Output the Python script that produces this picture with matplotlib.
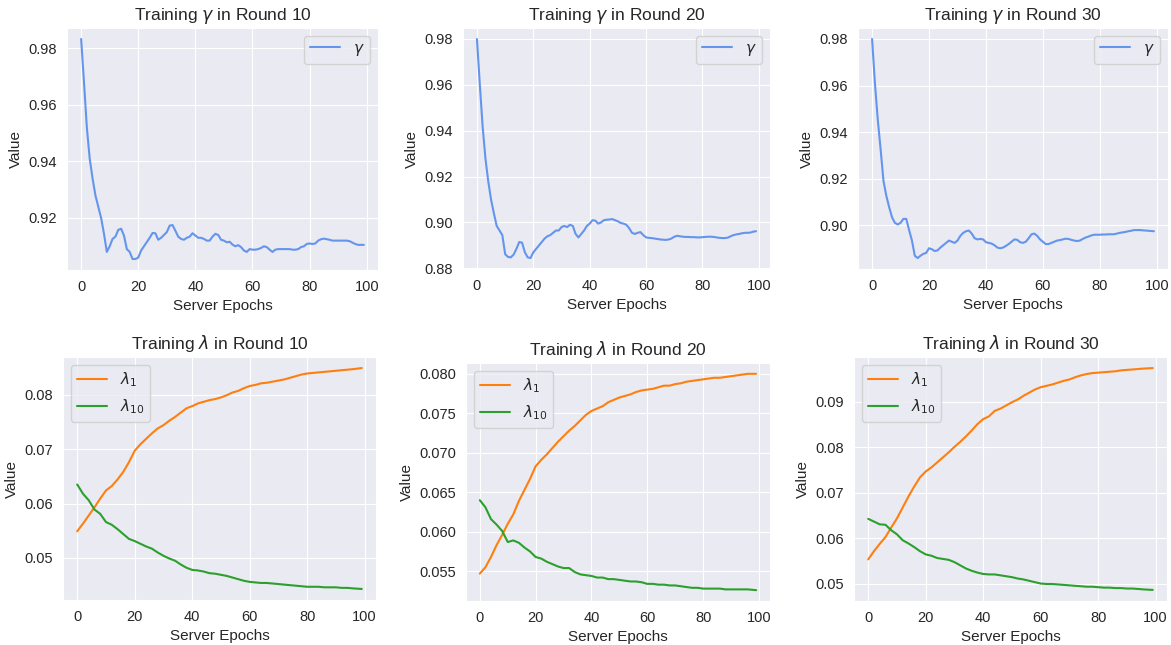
import numpy as np
import matplotlib
matplotlib.use("Agg")
import matplotlib.pyplot as plt
import seaborn as sns

# gamma per server epoch (0..99)
gamma_r10 = [0.9833, 0.968, 0.952, 0.941, 0.934, 0.928, 0.924, 0.920, 0.9144, 0.908,
             0.910, 0.9126, 0.9134, 0.9158, 0.9162, 0.9138, 0.909, 0.908, 0.9055, 0.9055,
             0.906, 0.9085, 0.910, 0.9115, 0.913, 0.9147, 0.9146, 0.9123, 0.913, 0.914,
             0.915, 0.9173, 0.9175, 0.9155, 0.9134, 0.9126, 0.9123, 0.913, 0.9134, 0.9146,
             0.9138, 0.913, 0.913, 0.9126, 0.912, 0.912, 0.9134, 0.9144, 0.914, 0.9123,
             0.912, 0.9114, 0.9116, 0.9106, 0.910, 0.9104, 0.9097, 0.9085, 0.908, 0.909,
             0.9088, 0.9088, 0.909, 0.9094, 0.910, 0.9097, 0.9088, 0.908, 0.9088, 0.909,
             0.909, 0.909, 0.909, 0.909, 0.9088, 0.9088, 0.909, 0.9097, 0.910, 0.9108,
             0.911, 0.9108, 0.911, 0.912, 0.9125, 0.9127, 0.9125, 0.9123, 0.912, 0.912,
             0.912, 0.912, 0.912, 0.912, 0.9118, 0.9113, 0.9108, 0.9105, 0.9105, 0.9105]
gamma_r20 = [0.980, 0.9605, 0.942, 0.928, 0.918, 0.910, 0.904, 0.8985, 0.8965, 0.8945,
             0.8862, 0.8850, 0.8848, 0.8860, 0.8885, 0.8915, 0.8912, 0.8870, 0.8848, 0.8845,
             0.8870, 0.8885, 0.8900, 0.8915, 0.8930, 0.8940, 0.8945, 0.8955, 0.8965, 0.8965,
             0.8980, 0.8985, 0.8980, 0.8990, 0.8985, 0.8950, 0.8935, 0.8950, 0.8965, 0.8985,
             0.8995, 0.9010, 0.9008, 0.8995, 0.9000, 0.9010, 0.9012, 0.9013, 0.9015, 0.9010,
             0.9005, 0.8998, 0.8995, 0.8990, 0.8975, 0.8955, 0.8950, 0.8955, 0.8958, 0.8945,
             0.8935, 0.8933, 0.8932, 0.8930, 0.8928, 0.8926, 0.8925, 0.8924, 0.8926, 0.8930,
             0.8938, 0.8942, 0.8940, 0.8938, 0.8937, 0.8937, 0.8936, 0.8936, 0.8935, 0.8935,
             0.8936, 0.8937, 0.8938, 0.8938, 0.8937, 0.8935, 0.8933, 0.8932, 0.8932, 0.8934,
             0.8940, 0.8945, 0.8948, 0.8950, 0.8953, 0.8955, 0.8955, 0.8956, 0.8960, 0.8962]
gamma_r30 = [0.980, 0.9609, 0.9453, 0.9326, 0.9191, 0.9127, 0.9078, 0.9035, 0.9011, 0.9004,
             0.9011, 0.9028, 0.9028, 0.8980, 0.8935, 0.8870, 0.8860, 0.8870, 0.8878, 0.8882,
             0.8902, 0.8898, 0.8890, 0.8893, 0.8905, 0.8915, 0.8925, 0.8935, 0.8930, 0.8925,
             0.8935, 0.8955, 0.8968, 0.8975, 0.8978, 0.8965, 0.8945, 0.8940, 0.8942, 0.8940,
             0.8928, 0.8925, 0.8922, 0.8915, 0.8905, 0.8902, 0.8905, 0.8912, 0.8920, 0.8930,
             0.8940, 0.8938, 0.8928, 0.8925, 0.8930, 0.8945, 0.8962, 0.8965, 0.8955, 0.8940,
             0.8930, 0.8920, 0.8920, 0.8925, 0.8930, 0.8935, 0.8937, 0.8940, 0.8943, 0.8942,
             0.8938, 0.8935, 0.8933, 0.8935, 0.8942, 0.8948, 0.8952, 0.8957, 0.8960, 0.8960,
             0.8960, 0.8961, 0.8961, 0.8962, 0.8962, 0.8962, 0.8965, 0.8968, 0.8970, 0.8972,
             0.8975, 0.8977, 0.8980, 0.8980, 0.8980, 0.8979, 0.8978, 0.8977, 0.8976, 0.8975]

# lambda read at every second epoch
lam_x = [0, 2, 4, 6, 8, 10, 12, 14, 16, 18, 20, 22, 24, 26, 28, 30, 32, 34, 36, 38,
         40, 42, 44, 46, 48, 50, 52, 54, 56, 58, 60, 62, 64, 66, 68, 70, 72, 74, 76, 78,
         80, 82, 84, 86, 88, 90, 92, 94, 96, 99]
lam1_r10 = [0.0549, 0.0563, 0.0578, 0.0593, 0.0609, 0.0624, 0.0632, 0.0644, 0.0658, 0.0676,
            0.0697, 0.0709, 0.0719, 0.0729, 0.0738, 0.0744, 0.0752, 0.0759, 0.0767, 0.0775,
            0.0779, 0.0784, 0.0787, 0.0790, 0.0792, 0.0795, 0.0799, 0.0804, 0.0807, 0.0812,
            0.0816, 0.0818, 0.0821, 0.0822, 0.0824, 0.0826, 0.0828, 0.0831, 0.0834, 0.0837,
            0.0839, 0.0840, 0.0841, 0.0842, 0.0843, 0.0844, 0.0845, 0.0846, 0.0847, 0.0849]
lam10_r10 = [0.0635, 0.0618, 0.0606, 0.0589, 0.0581, 0.0566, 0.0561, 0.0553, 0.0544, 0.0535,
             0.0531, 0.0526, 0.0521, 0.0517, 0.0510, 0.0504, 0.0499, 0.0495, 0.0488, 0.0482,
             0.0478, 0.0477, 0.0475, 0.0472, 0.0471, 0.0469, 0.0467, 0.0464, 0.0461, 0.0458,
             0.0456, 0.0455, 0.0454, 0.0454, 0.0453, 0.0452, 0.0451, 0.0450, 0.0449, 0.0448,
             0.0447, 0.0447, 0.0447, 0.0446, 0.0446, 0.0446, 0.0445, 0.0445, 0.0444, 0.0443]
lam1_r20 = [0.0547, 0.0555, 0.0568, 0.0583, 0.0596, 0.0610, 0.0622, 0.0639, 0.0653, 0.0667,
            0.0683, 0.0691, 0.0698, 0.0706, 0.0714, 0.0721, 0.0728, 0.0734, 0.0741, 0.0748,
            0.0753, 0.0756, 0.0759, 0.0764, 0.0767, 0.0770, 0.0772, 0.0774, 0.0777, 0.0779,
            0.0780, 0.0781, 0.0783, 0.0785, 0.0785, 0.0787, 0.0788, 0.0790, 0.0791, 0.0792,
            0.0793, 0.0794, 0.0795, 0.0795, 0.0796, 0.0797, 0.0798, 0.0799, 0.0800, 0.0800]
lam10_r20 = [0.0640, 0.0631, 0.0616, 0.0609, 0.0601, 0.0587, 0.0589, 0.0586, 0.0580, 0.0575,
             0.0568, 0.0566, 0.0562, 0.0559, 0.0556, 0.0554, 0.0554, 0.0549, 0.0546, 0.0545,
             0.0544, 0.0542, 0.0542, 0.0540, 0.0540, 0.0539, 0.0538, 0.0537, 0.0537, 0.0536,
             0.0534, 0.0534, 0.0533, 0.0533, 0.0532, 0.0532, 0.0531, 0.0530, 0.0529, 0.0529,
             0.0528, 0.0528, 0.0528, 0.0528, 0.0527, 0.0527, 0.0527, 0.0527, 0.0527, 0.0526]
lam1_r30 = [0.0554, 0.0572, 0.0588, 0.0603, 0.0624, 0.0644, 0.0668, 0.0692, 0.0714, 0.0734,
            0.0747, 0.0756, 0.0767, 0.0778, 0.0789, 0.0801, 0.0812, 0.0824, 0.0837, 0.0851,
            0.0862, 0.0868, 0.0880, 0.0885, 0.0892, 0.0899, 0.0905, 0.0913, 0.0920, 0.0927,
            0.0932, 0.0935, 0.0938, 0.0942, 0.0946, 0.0949, 0.0954, 0.0958, 0.0961, 0.0963,
            0.0964, 0.0965, 0.0966, 0.0967, 0.0969, 0.0970, 0.0971, 0.0972, 0.0973, 0.0974]
lam10_r30 = [0.0643, 0.0637, 0.0631, 0.0630, 0.0618, 0.0609, 0.0596, 0.0589, 0.0581, 0.0572,
             0.0565, 0.0562, 0.0557, 0.0555, 0.0553, 0.0548, 0.0541, 0.0534, 0.0529, 0.0525,
             0.0522, 0.0521, 0.0521, 0.0519, 0.0517, 0.0515, 0.0512, 0.0510, 0.0507, 0.0504,
             0.0501, 0.0500, 0.0500, 0.0499, 0.0498, 0.0497, 0.0496, 0.0495, 0.0494, 0.0494,
             0.0493, 0.0492, 0.0492, 0.0491, 0.0491, 0.0490, 0.0490, 0.0489, 0.0488, 0.0487]

rounds = [10, 20, 30]
gammas = [gamma_r10, gamma_r20, gamma_r30]
lam1s = [lam1_r10, lam1_r20, lam1_r30]
lam10s = [lam10_r10, lam10_r20, lam10_r30]

sns.set_style("darkgrid")
plt.rcParams['font.family'] = ['Liberation Sans', 'DejaVu Sans']

W, H = 1171, 645
fig = plt.figure(figsize=(W / 100, H / 100), dpi=100)

# axes boxes in pixels: left, top, right, bottom
top_boxes = [(67, 28, 378, 270), (463, 28, 770, 269), (858, 28, 1168, 269)]
bot_boxes = [(63, 357, 376, 600), (466, 363, 770, 601), (854, 357, 1167, 601)]

def make_ax(b):
    l, t, r, bt = b
    return fig.add_axes([l / W, (H - bt) / H, (r - l) / W, (bt - t) / H])

epochs = np.arange(100)
for i in range(3):
    ax = make_ax(top_boxes[i])
    ax.plot(epochs, gammas[i], color='cornflowerblue', lw=1.5, label=r'$\gamma$')
    ax.set_title(r'Training $\gamma$ in Round %d' % rounds[i], fontsize=12.5)
    ax.set_xlabel('Server Epochs', fontsize=11)
    ax.set_ylabel('Value', fontsize=11)
    ax.tick_params(labelsize=10.5)
    ax.legend(loc='upper right', fontsize=11)

    ax = make_ax(bot_boxes[i])
    ax.plot(lam_x, lam1s[i], color='tab:orange', lw=1.5, label=r'$\lambda_1$')
    ax.plot(lam_x, lam10s[i], color='tab:green', lw=1.5, label=r'$\lambda_{10}$')
    ax.set_title(r'Training $\lambda$ in Round %d' % rounds[i], fontsize=12.5)
    ax.set_xlabel('Server Epochs', fontsize=11)
    ax.set_ylabel('Value', fontsize=11)
    ax.tick_params(labelsize=10.5)
    ax.legend(loc='upper left', fontsize=11)

fig.savefig('out.png', dpi=100)
